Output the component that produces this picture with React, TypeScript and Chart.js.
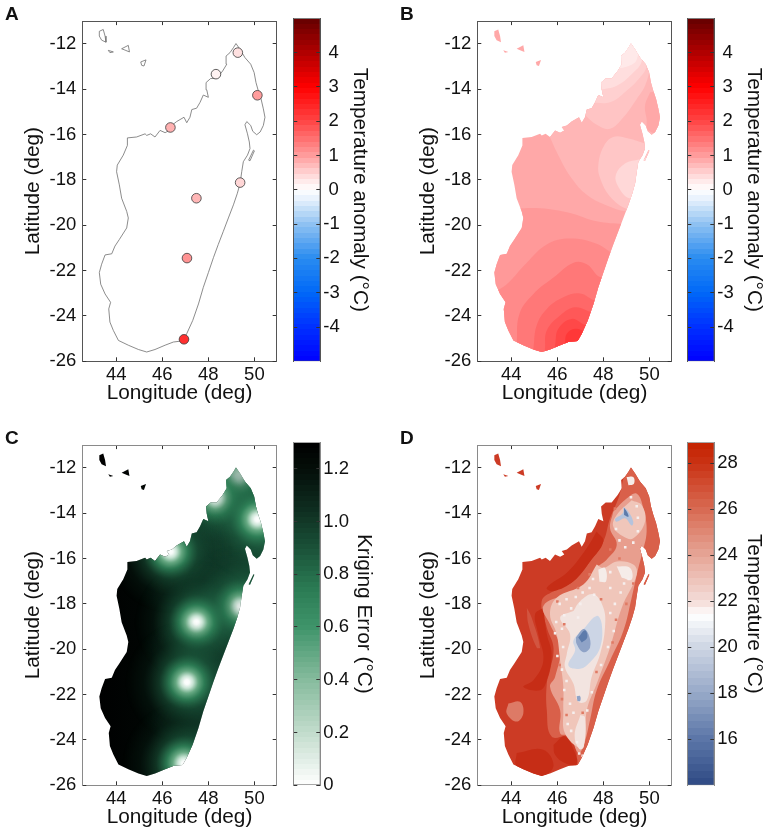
import React, { useEffect, useRef } from "react";
import { Chart, registerables } from "chart.js";

Chart.register(...registerables);
Chart.defaults.font.family = '"Liberation Sans", Arial, sans-serif';

type Pair = number[];

// ---- axis ticks
const lonTicks = [44, 46, 48, 50];
const latTicks = [-12, -14, -16, -18, -20, -22, -24, -26];
const anomalyTicks = [-4, -3, -2, -1, 0, 1, 2, 3, 4];
const krigingTicks = [0, 0.2, 0.4, 0.6, 0.8, 1.0, 1.2];
const temperatureTicks = [16, 18, 20, 22, 24, 26, 28];

// ---- coast (lon, lat)
const mainland: Pair[] = [
  [49.2, -11.99], [49.38, -12.25], [49.59, -12.61], [49.84, -12.9], [49.99, -13.27], [50.07, -13.71], [50.17, -14.07],
  [50.29, -14.43], [50.39, -14.87], [50.46, -15.24], [50.39, -15.6], [50.25, -15.89], [50.1, -16.01], [49.93, -15.86],
  [49.84, -15.6], [49.67, -15.43], [49.59, -15.57], [49.7, -15.97], [49.78, -16.33], [49.81, -16.62], [49.7, -16.91],
  [49.52, -17.2], [49.45, -17.64], [49.38, -18.15], [49.26, -18.59], [49.09, -19.1], [48.87, -19.68], [48.65, -20.27],
  [48.43, -20.85], [48.22, -21.43], [48.0, -22.09], [47.78, -22.74], [47.57, -23.47], [47.32, -24.2], [47.06, -24.78],
  [46.88, -25.1], [46.48, -25.15], [46.12, -25.29], [45.68, -25.48], [45.32, -25.59], [44.96, -25.48], [44.52, -25.29],
  [44.09, -25.08], [43.87, -24.64], [43.72, -24.27], [43.67, -23.69], [43.75, -23.4], [43.51, -23.03], [43.32, -22.6],
  [43.26, -22.09], [43.36, -21.72], [43.51, -21.31], [43.8, -21.26], [43.94, -20.92], [44.13, -20.63], [44.45, -20.12],
  [44.52, -19.68], [44.45, -19.39], [44.23, -18.81], [44.13, -18.22], [44.01, -17.64], [44.04, -17.35], [44.3, -16.91],
  [44.48, -16.48], [44.48, -16.15], [44.88, -16.11], [45.25, -15.97], [45.32, -16.04], [45.49, -15.97], [45.68, -16.11],
  [45.9, -15.82], [46.12, -15.92], [46.3, -15.82], [46.19, -15.67], [46.41, -15.6], [46.62, -15.43], [46.94, -15.24],
  [47.06, -15.48], [47.2, -15.24], [47.28, -14.9], [47.49, -14.84], [47.64, -14.58], [47.78, -14.26], [48.0, -14.36],
  [47.93, -14.03], [47.9, -13.71], [48.1, -13.53], [48.36, -13.53], [48.62, -13.2], [48.8, -12.9], [48.77, -12.54],
  [48.94, -12.39], [49.09, -12.17],
];
const isle1: Pair[] = [[43.26, -11.45], [43.43, -11.37], [43.51, -11.66], [43.55, -11.93], [43.36, -11.84], [43.26, -11.66]];
const isle2: Pair[] = [[43.65, -12.29], [43.87, -12.36], [43.72, -12.39]];
const isle3: Pair[] = [[44.23, -12.22], [44.52, -12.07], [44.57, -12.36], [44.38, -12.28]];
const isle4: Pair[] = [[45.06, -12.8], [45.29, -12.71], [45.2, -12.98], [45.1, -12.95]];
const isle5: Pair[] = [[49.96, -16.69], [50.0, -16.72], [49.81, -17.16], [49.75, -17.13]];
const islands = [isle1, isle2, isle3, isle4, isle5];
const land = [mainland, ...islands];

// ---- weather stations
const stationLon = [49.28, 48.33, 50.13, 46.35, 49.38, 47.48, 47.07, 46.94];
const stationLat = [-12.39, -13.34, -14.27, -15.69, -18.12, -18.81, -21.45, -25.03];
const stationAnomaly = [0.35, 0.15, 1.0, 0.8, 0.45, 0.75, 1.1, 2.3];

// ---- colour maps: value, colour
const anomalyStops: [number, string][] = [
  [-5, "#0000ff"], [-4, "#0030ff"], [-3, "#0068f8"], [-2, "#2a8cf0"], [-1, "#90c2f2"], [-0.3, "#e4f0fc"], [0, "#ffffff"],
  [0.3, "#ffe6e6"], [1, "#ff9c9c"], [2, "#ff4444"], [3, "#ff0000"], [4, "#b00000"], [5, "#640000"],
];
const krigingStops: [number, string][] = [
  [0, "#ffffff"], [0.2, "#c2dccc"], [0.4, "#86bb9d"], [0.6, "#3f946a"], [0.75, "#2a7a53"], [0.9, "#1a5138"],
  [1.05, "#0e2c1f"], [1.2, "#040e09"], [1.3, "#000000"],
];
const temperatureStops: [number, string][] = [
  [14, "#2f4a84"], [16, "#5b76a8"], [18, "#97a9c8"], [20, "#ced6e4"], [21.4, "#ffffff"], [22, "#f4dcd8"],
  [24, "#e6a596"], [26, "#d86a52"], [28, "#ca3214"], [28.9, "#c42200"],
];

// ---- panel B: anomaly contours (colour, outline), back to front
const everywhere: Pair[] = [[42, -27], [52, -27], [52, -10], [42, -10]];
const anomalyBands: [string, Pair[]][] = [
  ["#ffa8a8", everywhere],
  ["#ffb6b6", [[45.61, -15.97], [46.04, -16.91], [46.62, -17.93], [47.28, -18.66], [48.07, -19.1], [49.01, -19.39], [51, -19.4], [51, -11], [47, -11], [45.61, -14]]],
  ["#ffa8a8", [[50.03, -14.14], [49.81, -14.73], [49.88, -15.31], [49.96, -15.82], [51, -16], [51, -14]]],
  ["#ffc6c6", [[49.81, -16.4], [49.09, -16.18], [48.43, -16.11], [48.0, -16.55], [47.78, -17.35], [47.86, -17.93], [48.29, -18.73], [49.01, -19.27], [50.03, -19.39], [50.03, -16.4]]],
  ["#ffd8d8", [[49.59, -17.09], [48.94, -17.28], [48.54, -17.79], [48.65, -18.3], [49.13, -18.81], [50.03, -18.81], [50.03, -17.09]]],
  ["#ffc4c4", [[47.13, -15.09], [47.71, -15.57], [48.29, -15.75], [48.87, -15.24], [49.45, -14.43], [49.81, -13.85], [50.03, -12.98], [50.03, -11.67], [47.13, -11.67]]],
  ["#ffd0d0", [[47.42, -14.58], [48.29, -14.58], [49.01, -14.07], [49.59, -13.49], [49.88, -12.98], [49.88, -11.67], [47.42, -11.67]]],
  ["#ffdede", [[47.86, -14.03], [48.58, -13.85], [49.23, -13.34], [49.67, -12.76], [49.67, -11.67], [47.86, -11.67]]],
  ["#ffe9e9", [[48.43, -13.12], [49.09, -12.98], [49.45, -12.69], [49.52, -11.67], [48.43, -11.67]]],
  ["#ff9999", [[44.0, -19.27], [45.25, -19.25], [46.55, -19.46], [47.71, -19.83], [48.87, -19.95], [50, -20], [50, -27], [43, -27], [43, -19.27]]],
  ["#ff8a8a", [[43.36, -22.89], [43.8, -22.6], [44.67, -21.65], [45.54, -20.85], [46.55, -20.59], [47.71, -20.82], [48.58, -21.29], [50, -21.3], [50, -27], [43.3, -27]]],
  ["#ff7878", [[44.23, -25.22], [44.35, -23.91], [44.96, -23.03], [45.83, -22.31], [46.7, -21.65], [47.28, -21.72], [47.93, -22.31], [50, -22.3], [50, -27], [44.2, -27]]],
  ["#ff6868", [[44.96, -25.44], [45.1, -24.42], [45.54, -23.69], [46.26, -23.18], [46.99, -23.01], [47.71, -23.33], [50, -23.3], [50, -27], [44.96, -27]]],
  ["#ff5858", [[45.46, -25.44], [45.54, -24.64], [46.12, -23.98], [46.77, -23.62], [47.57, -23.84], [50, -23.9], [50, -27], [45.46, -27]]],
  ["#ff4848", [[45.9, -25.29], [46.04, -24.57], [46.62, -24.13], [47.3, -24.42], [50, -24.5], [50, -27], [45.9, -27]]],
  ["#ff3838", [[46.33, -25.19], [46.41, -24.78], [46.77, -24.57], [47.22, -24.67], [50, -24.7], [50, -27], [46.33, -27]]],
];

// ---- panel C: background error across longitude
const krigingBaseLon = [43, 45.5, 46.8, 48, 50.5];
const krigingBaseColour = ["#000000", "#010604", "#061a12", "#0e3023", "#174a33"];

// ---- panel D: elevation-driven temperature patches (colour, outline), back to front
const temperatureBands: [string, Pair[]][] = [
  ["#cc3b25", everywhere],
  ["#d9604a", [[48.87, -12.48], [48.65, -13.36], [48.29, -14.23], [48.0, -15.25], [47.42, -16.13], [46.7, -17.0], [45.83, -17.44], [45.32, -17.87], [45.54, -19.04], [45.83, -19.92], [45.68, -20.94], [45.54, -21.52], [45.54, -22.68], [45.75, -23.85], [46.55, -23.85], [46.84, -24.58], [46.77, -25.16], [47.13, -25.16], [51, -25.2], [51, -11.5], [48.87, -11.5]]],
  ["#d25540", [[44.67, -18.17], [44.88, -18.6], [45.25, -19.92], [45.1, -19.92], [44.74, -18.9]]],
  ["#dd7a66", [[43.87, -22.39], [44.38, -22.32], [44.52, -22.83], [44.23, -23.19], [43.8, -22.83]]],
  ["#c62d16", [[45.39, -18.17], [45.54, -19.33], [45.75, -20.21], [45.54, -21.37], [45.25, -21.81], [44.52, -21.66], [44.96, -21.37], [45.39, -20.5], [45.17, -19.33], [45.03, -18.46]]],
  ["#c62d16", [[47.71, -14.81], [48.0, -15.25], [47.42, -16.13], [46.7, -17.0], [45.83, -17.44], [45.54, -17.29], [46.48, -16.56], [47.28, -15.54]]],
  ["#c62d16", [[44.23, -24.58], [45.39, -24.43], [45.83, -25.16], [45.25, -25.6], [44.23, -25.16]]],
  ["#e89e8e", [[48.43, -13.94], [48.29, -14.67], [48.58, -15.4], [48.14, -16.05], [47.71, -16.42], [47.42, -17.15], [46.41, -17.58], [45.39, -18.09], [45.68, -18.9], [46.12, -19.92], [45.9, -21.23], [45.68, -21.66], [46.12, -22.69], [46.12, -23.71], [46.55, -23.85], [46.91, -24.58], [47.13, -24.29], [47.42, -23.12], [47.71, -21.81], [48.29, -20.5], [48.87, -19.19], [49.23, -17.73], [49.52, -16.42], [49.67, -15.83], [49.88, -14.81], [49.74, -13.79], [49.45, -13.14], [49.01, -13.36]]],
  ["#c62d16", [[45.83, -24.22], [46.33, -23.85], [46.77, -24.58], [46.84, -25.09], [46.33, -25.02], [45.9, -24.65]]],
  ["#f0c6ba", [[47.71, -16.27], [47.13, -17.15], [45.97, -17.73], [45.68, -18.46], [45.97, -19.33], [46.12, -20.5], [46.26, -21.66], [46.26, -22.69], [46.33, -23.71], [46.99, -24.36], [47.2, -24.0], [47.28, -22.69], [47.71, -21.52], [48.29, -19.92], [48.8, -18.17], [49.45, -16.71], [49.3, -16.27], [48.58, -16.13], [48.0, -16.42]]],
  ["#f0c6ba", [[49.23, -13.43], [48.58, -14.08], [48.43, -14.59], [48.87, -15.03], [49.3, -15.11], [49.81, -14.38], [49.67, -13.65]]],
  ["#f2e4e0", [[46.7, -18.31], [46.12, -18.6], [46.55, -19.33], [46.41, -20.21], [46.33, -20.79], [46.7, -21.52], [46.91, -22.32], [47.28, -22.25], [47.49, -21.23], [47.86, -20.21], [48.07, -19.04], [48.0, -18.17], [47.57, -17.58], [47.0, -17.87]]],
  ["#f3e3df", [[47.0, -22.9], [47.2, -23.0], [47.15, -24.3], [46.95, -24.4], [46.75, -23.8]]],
  ["#f5ece9", [[47.78, -16.49], [48.07, -16.42], [48.12, -17.0], [47.83, -17.03]]],
  ["#f5ece9", [[48.58, -16.34], [49.16, -16.42], [49.23, -16.93], [48.8, -16.85]]],
  ["#f5ece9", [[49.01, -12.41], [49.3, -12.41], [49.33, -12.7], [49.09, -12.77]]],
  ["#ccd5e5", [[47.13, -19.11], [47.71, -18.53], [47.93, -18.9], [47.86, -19.92], [47.42, -20.57], [46.99, -20.86], [46.48, -20.72], [46.77, -20.06], [46.7, -19.62]]],
  ["#8fa3c7", [[46.81, -19.48], [47.13, -19.11], [47.35, -19.33], [47.42, -19.92], [47.13, -20.13], [46.84, -19.77]]],
  ["#5d7bab", [[46.91, -19.48], [47.2, -19.16], [47.3, -19.48], [47.06, -19.7]]],
  ["#8fa3c7", [[46.84, -22.07], [46.99, -22.07], [46.99, -22.28], [46.87, -22.28]]],
  ["#b5c3dc", [[48.87, -13.72], [49.09, -13.94], [49.3, -14.38], [49.23, -14.55], [48.94, -14.23], [48.58, -14.38], [48.51, -14.26], [48.84, -14.01]]],
  ["#5d7bab", [[48.9, -13.76], [49.04, -13.97], [49.09, -14.16], [48.9, -14.08]]],
];
// small cold and warm terrain spots
const coldSpots: Pair[] = [
  [46.1, -18.0], [46.4, -17.8], [46.8, -17.7], [47.1, -17.5], [47.4, -17.3], [47.6, -17.6], [47.0, -18.0], [46.6, -18.2], [46.3, -18.5],
  [46.9, -18.6], [45.95, -18.8], [46.2, -19.1], [45.9, -19.3], [46.25, -19.9], [46.0, -20.3], [46.2, -20.9], [46.4, -21.4], [46.3, -21.8],
  [46.55, -22.4], [46.7, -22.8], [46.45, -23.3], [46.6, -23.6], [46.85, -24.1], [46.95, -24.6], [47.1, -24.7], [47.3, -22.7], [47.5, -21.9],
  [47.9, -20.7], [48.2, -19.9], [48.45, -19.2], [48.3, -18.4], [48.5, -18.0], [48.75, -17.5], [48.9, -17.1], [49.1, -16.9], [48.3, -16.6],
  [47.55, -16.9], [48.3, -17.3], [49.5, -14.2], [49.45, -13.7], [49.2, -13.3], [48.55, -14.7], [48.7, -15.2], [49.5, -14.8], [48.95, -15.5], [49.3, -15.3],
];
const warmSpots: Pair[] = [
  [46.0, -17.9], [46.3, -18.9], [46.9, -17.3], [47.4, -16.7], [48.7, -16.0], [47.9, -17.8], [48.55, -18.7], [46.1, -20.7], [46.2, -22.2],
  [46.4, -22.9], [47.1, -22.8], [47.7, -21.0], [48.4, -19.7], [49.0, -18.0], [49.3, -17.1], [48.3, -15.6], [48.5, -13.8],
];

// ---- helpers
function hex(c: string): number[] {
  return [1, 3, 5].map((i) => parseInt(c.slice(i, i + 2), 16));
}
function colourAt(stops: [number, string][], v: number): string {
  let i = 0;
  while (i < stops.length - 2 && v > stops[i + 1][0]) i++;
  const [a, ca] = stops[i];
  const [b, cb] = stops[i + 1];
  const t = Math.min(1, Math.max(0, (v - a) / (b - a)));
  const p = hex(ca);
  const q = hex(cb);
  return `rgb(${p.map((x, k) => Math.round(x + (q[k] - x) * t)).join(",")})`;
}
const toXY = (p: Pair[]) => p.map(([x, y]) => ({ x, y }));

const polygon = (colour: any, pts: Pair[], order: number) => ({
  type: "scatter",
  data: toXY(pts.length > 4 ? [...pts, pts[0]] : pts),
  showLine: true,
  fill: "shape",
  backgroundColor: colour,
  borderColor: "rgba(0,0,0,0)",
  borderWidth: 0,
  pointRadius: 0,
  tension: pts === everywhere ? 0 : 0.4,
  order,
});

const clipToLand = {
  id: "clipToLand",
  beforeDatasetsDraw(chart: any) {
    const { ctx, scales } = chart;
    ctx.save();
    ctx.beginPath();
    for (const shape of land) {
      shape.forEach(([x, y], i) => {
        const px = scales.x.getPixelForValue(x);
        const py = scales.y.getPixelForValue(y);
        if (i === 0) ctx.moveTo(px, py);
        else ctx.lineTo(px, py);
      });
      ctx.closePath();
    }
    ctx.clip();
  },
  afterDatasetsDraw(chart: any) {
    chart.ctx.restore();
  },
};

function glowSprite(): HTMLCanvasElement {
  const R = 62;
  const c = document.createElement("canvas");
  c.width = c.height = R * 2;
  const g = c.getContext("2d")!;
  const r = g.createRadialGradient(R, R, 0, R, R, R);
  r.addColorStop(0, "rgba(255,255,255,1)");
  r.addColorStop(0.04, "rgba(248,252,250,1)");
  r.addColorStop(0.1, "rgba(200,228,212,1)");
  r.addColorStop(0.18, "rgba(105,172,133,0.98)");
  r.addColorStop(0.28, "rgba(50,135,92,0.88)");
  r.addColorStop(0.45, "rgba(35,105,72,0.45)");
  r.addColorStop(0.7, "rgba(25,80,55,0.14)");
  r.addColorStop(1, "rgba(26,82,56,0)");
  g.fillStyle = r;
  g.fillRect(0, 0, R * 2, R * 2);
  return c;
}

const LABEL_FONT = 18.5;
const TITLE_FONT = 20.8;
const TEXT = "#111111";

const fixedTicks = (vals: number[]) => (s: any) => {
  s.ticks = vals.map((value) => ({ value }));
};

function edgeAxis(axis: string, position: string, min: number, max: number, vals: number[], colour: string, size: number) {
  return {
    axis,
    position,
    min,
    max,
    afterBuildTicks: fixedTicks(vals),
    afterFit: (s: any) => {
      if (axis === "x") s.height = size;
      else s.width = size;
    },
    border: { display: true, color: colour, width: 1, z: 1 },
    grid: { drawOnChartArea: false, drawTicks: true, tickLength: -4, color: "#333", z: 1 },
    ticks: { display: false, autoSkip: false, maxRotation: 0, minRotation: 0 },
  };
}

function MapChart({ left, top, datasets, frame, clip }: { left: number; top: number; datasets: any[]; frame: string; clip: boolean }) {
  const ref = useRef<HTMLCanvasElement>(null);
  useEffect(() => {
    const xr = { min: 42.52, max: 50.97 };
    const yr = { min: -26, max: -11 };
    const chart = new Chart(ref.current!, {
      type: "scatter",
      data: { datasets },
      plugins: clip ? [clipToLand] : [],
      options: {
        responsive: false,
        animation: false,
        devicePixelRatio: 1,
        events: [],
        layout: { padding: { top: 18.3, right: 13.3, left: 0, bottom: 0 } },
        plugins: { legend: { display: false }, tooltip: { enabled: false } },
        scales: {
          x: {
            ...edgeAxis("x", "bottom", xr.min, xr.max, lonTicks, frame, 48.7),
            ticks: { display: true, autoSkip: false, maxRotation: 0, minRotation: 0, padding: 7, color: TEXT, font: { size: LABEL_FONT } },
            title: { display: true, text: "Longitude (deg)", color: TEXT, font: { size: TITLE_FONT }, padding: { top: 0, bottom: 4.2 } },
          },
          y: {
            ...edgeAxis("y", "left", yr.min, yr.max, latTicks, frame, 82.3),
            ticks: { display: true, autoSkip: false, maxRotation: 0, minRotation: 0, padding: 10, color: TEXT, font: { size: LABEL_FONT } },
            title: { display: true, text: "Latitude (deg)", color: TEXT, font: { size: TITLE_FONT }, padding: { top: 20.5, bottom: 0 } },
          },
          x2: edgeAxis("x", "top", xr.min, xr.max, lonTicks, frame, 0),
          y2: edgeAxis("y", "right", yr.min, yr.max, latTicks, frame, 0),
        } as any,
      },
    } as any);
    return () => chart.destroy();
  }, []);
  return <canvas ref={ref} width={290} height={410} style={{ position: "absolute", left, top, width: 290, height: 410 }} />;
}

function ColourBar({ left, top, stops, ticks, title, fmt, frame, bands, titlePad }: { left: number; top: number; stops: [number, string][]; ticks: number[]; title: string; fmt: (v: number) => string; frame: string; bands: number; titlePad: number }) {
  const ref = useRef<HTMLCanvasElement>(null);
  useEffect(() => {
    const lo = stops[0][0];
    const hi = stops[stops.length - 1][0];
    const chart = new Chart(ref.current!, {
      type: "bar",
      data: {
        labels: [title],
        datasets: [
          {
            data: [[lo, hi]],
            barPercentage: 1,
            categoryPercentage: 1,
            borderColor: frame,
            borderWidth: 1,
            borderSkipped: false,
            yAxisID: "y",
            backgroundColor: (c: any) => {
              const s = c.chart.scales.y;
              if (!c.chart.chartArea || !s) return "#fff";
              const g = c.chart.ctx.createLinearGradient(0, s.getPixelForValue(lo), 0, s.getPixelForValue(hi));
              for (let i = 0; i < bands; i++) {
                const col = colourAt(stops, lo + ((i + 0.5) / bands) * (hi - lo));
                g.addColorStop(i / bands, col);
                g.addColorStop((i + 1) / bands, col);
              }
              return g;
            },
          },
        ],
      },
      options: {
        responsive: false,
        animation: false,
        devicePixelRatio: 1,
        events: [],
        layout: { padding: { top: 18.3, bottom: 48.7, left: 8.3, right: 0 } },
        plugins: { legend: { display: false }, tooltip: { enabled: false } },
        scales: {
          x: { display: false },
          y: {
            ...edgeAxis("y", "right", lo, hi, ticks, frame, 64.7),
            ticks: { display: true, autoSkip: false, maxRotation: 0, minRotation: 0, padding: 7, color: TEXT, font: { size: LABEL_FONT }, callback: (v: any) => fmt(Number(v)) },
            title: { display: true, text: title, color: TEXT, font: { size: TITLE_FONT }, padding: { top: titlePad, bottom: 0 } },
          },
          yl: edgeAxis("y", "left", lo, hi, ticks, frame, 0),
        } as any,
      },
    } as any);
    return () => chart.destroy();
  }, []);
  return <canvas ref={ref} width={100} height={410} style={{ position: "absolute", left, top, width: 100, height: 410 }} />;
}

const Letter = ({ t, x, y }: { t: string; x: number; y: number }) => (
  <div style={{ position: "absolute", left: x, top: y, font: 'bold 19px/20px "Liberation Sans", Arial, sans-serif', color: "#111" }}>{t}</div>
);

const outlineSets = () => [
  ...land.map((shape, i) => ({
    type: "scatter",
    data: toXY([...shape, shape[0]]),
    showLine: true,
    fill: false,
    borderColor: "#6e6e6e",
    borderWidth: 0.8,
    pointRadius: 0,
    tension: 0,
    order: 5 + i,
  })),
  {
    type: "scatter",
    data: stationLon.map((x, i) => ({ x, y: stationLat[i] })),
    pointRadius: 4.8,
    pointBorderWidth: 0.8,
    pointBorderColor: "#3a3a3a",
    pointBackgroundColor: stationAnomaly.map((v) => colourAt(anomalyStops, v)),
    order: 0,
  },
];

const bandSets = (bands: [string, Pair[]][]) => bands.map(([c, pts], i) => polygon(c, pts, bands.length - i + 2));

const speckle = (pts: Pair[], colour: string) => ({
  type: "scatter",
  data: toXY(pts),
  pointStyle: "rect",
  pointRadius: 1.8,
  pointBorderWidth: 0,
  pointBackgroundColor: colour,
  order: 1,
});

const terrainSets = () => [...bandSets(temperatureBands), speckle(coldSpots, "#f6efee"), speckle(warmSpots, "#e07a64")];

const krigingSets = () => [
  polygon(
    (c: any) => {
      const s = c.chart.scales.x;
      if (!c.chart.chartArea || !s) return "#000";
      const a = krigingBaseLon[0];
      const b = krigingBaseLon[krigingBaseLon.length - 1];
      const g = c.chart.ctx.createLinearGradient(s.getPixelForValue(a), 0, s.getPixelForValue(b), 0);
      krigingBaseLon.forEach((l, i) => g.addColorStop((l - a) / (b - a), krigingBaseColour[i]));
      return g;
    },
    everywhere,
    10,
  ),
  {
    type: "scatter",
    data: stationLon.map((x, i) => ({ x, y: stationLat[i] })),
    pointStyle: glowSprite(),
    pointRadius: 1,
    order: 1,
  },
];

const RED_FRAME = "#555555";
const GREY_FRAME = "#8a8a8a";
const signed = (v: number) => (v >= 0 ? ` ${v}` : `${v}`);

export default function App() {
  return (
    <div style={{ position: "absolute", left: 0, top: 0, width: 768, height: 834, background: "#fff", overflow: "hidden" }}>
      <MapChart left={0} top={0} datasets={outlineSets()} frame={RED_FRAME} clip={false} />
      <ColourBar left={285} top={0} stops={anomalyStops} ticks={anomalyTicks} title="Temperature anomaly (°C)" fmt={signed} frame={RED_FRAME} bands={64} titlePad={13} />
      <MapChart left={395.4} top={0} datasets={bandSets(anomalyBands)} frame={RED_FRAME} clip />
      <ColourBar left={679.4} top={0} stops={anomalyStops} ticks={anomalyTicks} title="Temperature anomaly (°C)" fmt={signed} frame={RED_FRAME} bands={64} titlePad={13} />
      <MapChart left={0} top={424.4} datasets={krigingSets()} frame={GREY_FRAME} clip />
      <ColourBar left={285} top={424.4} stops={krigingStops} ticks={krigingTicks} title="Kriging Error (°C)" fmt={(v) => (v === 0 ? "0" : v.toFixed(1))} frame={GREY_FRAME} bands={64} titlePad={9} />
      <MapChart left={395.4} top={424.4} datasets={terrainSets()} frame={GREY_FRAME} clip />
      <ColourBar left={679.4} top={424.4} stops={temperatureStops} ticks={temperatureTicks} title="Temperature (°C)" fmt={(v) => `${v}`} frame={GREY_FRAME} bands={48} titlePad={13} />
      <Letter t="A" x={5} y={4} />
      <Letter t="B" x={400} y={4} />
      <Letter t="C" x={5} y={428} />
      <Letter t="D" x={400} y={428} />
    </div>
  );
}
